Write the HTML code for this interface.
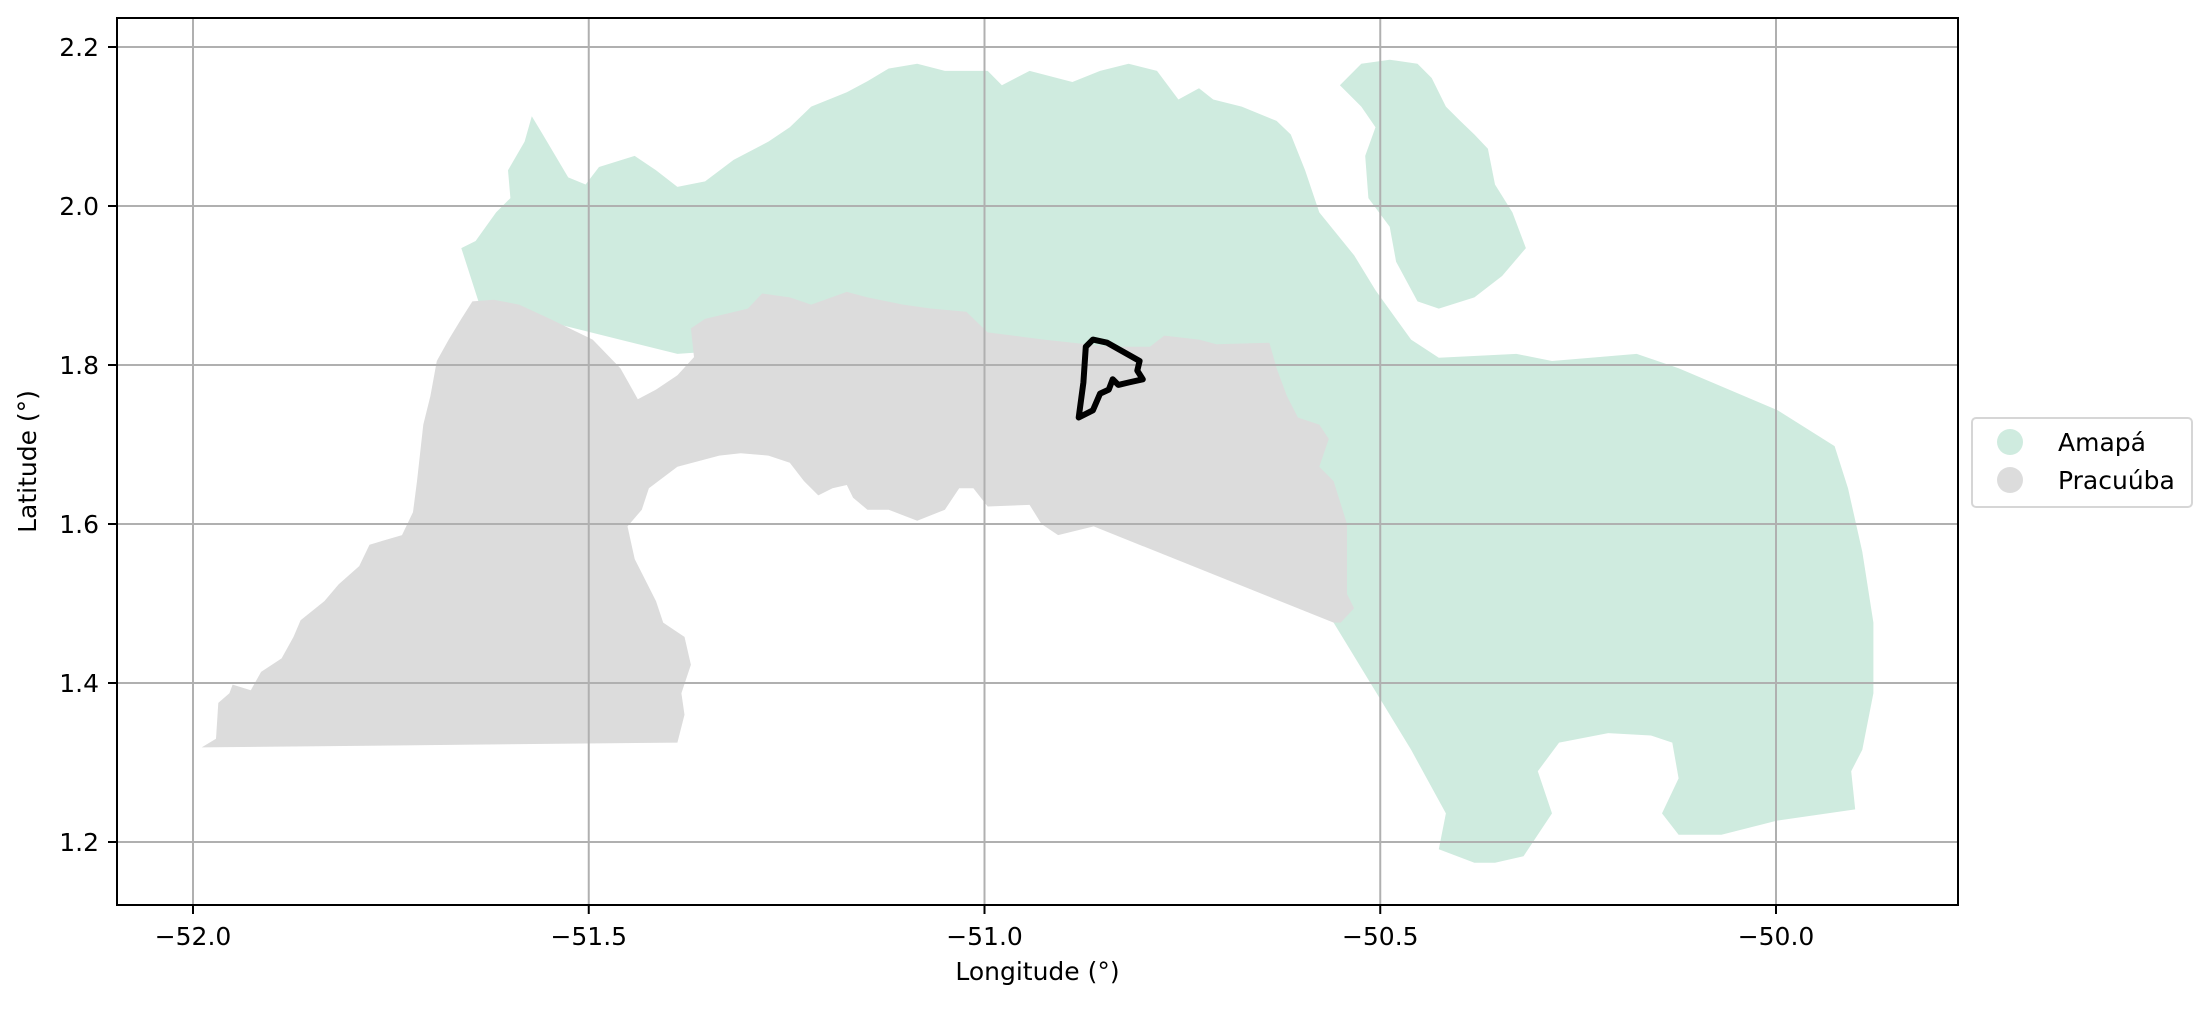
<!DOCTYPE html>
<html><head><meta charset="utf-8"><style>
body{margin:0;background:#fff}
svg text{font-family:"DejaVu Sans","Liberation Sans",sans-serif;fill:#000}
</style></head><body>
<svg id="chart" width="2211" height="1006" xmlns="http://www.w3.org/2000/svg"></svg>
<script>
const xTicks=[-52.0,-51.5,-51.0,-50.5,-50.0];
const yTicks=[1.2,1.4,1.6,1.8,2.0,2.2];
const xTickLabels=["\u221252.0","\u221251.5","\u221251.0","\u221250.5","\u221250.0"];
const yTickLabels=["1.2","1.4","1.6","1.8","2.0","2.2"];
const amapaMain=[[-51.661,1.947],[-51.643,1.956],[-51.617,1.992],[-51.599,2.010],[-51.602,2.045],[-51.581,2.081],[-51.572,2.113],[-51.558,2.090],[-51.526,2.036],[-51.504,2.027],[-51.487,2.049],[-51.442,2.063],[-51.415,2.045],[-51.388,2.024],[-51.353,2.031],[-51.317,2.058],[-51.273,2.081],[-51.246,2.099],[-51.219,2.125],[-51.174,2.143],[-51.148,2.157],[-51.121,2.173],[-51.085,2.179],[-51.050,2.170],[-50.996,2.170],[-50.978,2.152],[-50.943,2.170],[-50.889,2.156],[-50.854,2.170],[-50.818,2.179],[-50.782,2.170],[-50.755,2.134],[-50.729,2.148],[-50.711,2.134],[-50.675,2.125],[-50.631,2.107],[-50.613,2.090],[-50.595,2.045],[-50.577,1.992],[-50.533,1.938],[-50.506,1.894],[-50.461,1.832],[-50.426,1.809],[-50.328,1.814],[-50.283,1.805],[-50.176,1.814],[-50.123,1.796],[-49.998,1.743],[-49.926,1.698],[-49.909,1.645],[-49.891,1.565],[-49.877,1.476],[-49.877,1.387],[-49.891,1.316],[-49.905,1.289],[-49.900,1.241],[-49.998,1.227],[-50.069,1.209],[-50.123,1.209],[-50.144,1.236],[-50.123,1.280],[-50.131,1.325],[-50.158,1.334],[-50.212,1.337],[-50.274,1.325],[-50.301,1.289],[-50.283,1.236],[-50.319,1.182],[-50.355,1.174],[-50.381,1.174],[-50.426,1.191],[-50.417,1.236],[-50.461,1.316],[-50.559,1.476],[-50.640,1.725],[-50.996,1.841],[-51.388,1.814],[-51.638,1.876]];
const amapaIsland=[[-50.551,2.152],[-50.524,2.179],[-50.488,2.184],[-50.453,2.179],[-50.435,2.161],[-50.417,2.125],[-50.399,2.107],[-50.381,2.090],[-50.364,2.072],[-50.355,2.027],[-50.333,1.992],[-50.316,1.947],[-50.346,1.912],[-50.381,1.885],[-50.426,1.871],[-50.453,1.880],[-50.480,1.930],[-50.488,1.974],[-50.515,2.010],[-50.519,2.063],[-50.506,2.099],[-50.524,2.125]];
const pracuuba=[[-51.989,1.319],[-51.971,1.330],[-51.968,1.375],[-51.954,1.387],[-51.950,1.398],[-51.927,1.391],[-51.914,1.414],[-51.888,1.431],[-51.873,1.458],[-51.864,1.479],[-51.834,1.503],[-51.816,1.524],[-51.790,1.547],[-51.777,1.574],[-51.736,1.586],[-51.722,1.615],[-51.717,1.654],[-51.709,1.725],[-51.700,1.761],[-51.692,1.805],[-51.677,1.832],[-51.661,1.858],[-51.647,1.880],[-51.620,1.882],[-51.588,1.876],[-51.549,1.858],[-51.495,1.832],[-51.460,1.796],[-51.438,1.757],[-51.415,1.769],[-51.388,1.787],[-51.367,1.810],[-51.371,1.846],[-51.353,1.858],[-51.299,1.871],[-51.281,1.890],[-51.246,1.885],[-51.219,1.876],[-51.174,1.892],[-51.148,1.885],[-51.103,1.876],[-51.067,1.871],[-51.023,1.867],[-50.996,1.841],[-50.925,1.832],[-50.871,1.826],[-50.836,1.823],[-50.791,1.823],[-50.773,1.837],[-50.729,1.832],[-50.707,1.826],[-50.640,1.828],[-50.631,1.796],[-50.618,1.761],[-50.604,1.734],[-50.577,1.725],[-50.565,1.707],[-50.577,1.672],[-50.559,1.654],[-50.542,1.600],[-50.542,1.512],[-50.533,1.494],[-50.550,1.476],[-50.559,1.476],[-50.862,1.597],[-50.907,1.586],[-50.928,1.600],[-50.943,1.624],[-50.996,1.622],[-51.014,1.645],[-51.032,1.645],[-51.050,1.618],[-51.085,1.604],[-51.121,1.618],[-51.148,1.618],[-51.166,1.633],[-51.174,1.649],[-51.192,1.645],[-51.210,1.636],[-51.228,1.654],[-51.246,1.677],[-51.273,1.686],[-51.308,1.689],[-51.335,1.686],[-51.388,1.672],[-51.424,1.645],[-51.433,1.618],[-51.451,1.597],[-51.442,1.556],[-51.415,1.503],[-51.406,1.476],[-51.379,1.458],[-51.371,1.423],[-51.383,1.387],[-51.379,1.360],[-51.388,1.325]];
const outlineArea=[[-50.881,1.734],[-50.875,1.778],[-50.872,1.823],[-50.863,1.832],[-50.845,1.828],[-50.827,1.818],[-50.804,1.805],[-50.807,1.793],[-50.800,1.782],[-50.818,1.778],[-50.831,1.775],[-50.838,1.782],[-50.843,1.769],[-50.854,1.764],[-50.863,1.743]];
const legendLabels=["Amapá","Pracuúba"];
const legendColors=["#cfebdf","#dcdcdc"];

const NS="http://www.w3.org/2000/svg";
const svg=document.getElementById('chart');
const L=117,T=18,R=1958,B=905;
const X=lon=>193+(lon+52)*791.5;
const Y=lat=>47+(2.2-lat)*795;
function mk(tag,attrs,parent){const e=document.createElementNS(NS,tag);for(const k in attrs)e.setAttribute(k,attrs[k]);(parent||svg).appendChild(e);return e;}
const pts=a=>a.map(p=>X(p[0]).toFixed(1)+','+Y(p[1]).toFixed(1)).join(' ');

let e;
e=mk('polygon',{points:pts(amapaMain),fill:legendColors[0]});


e=mk('polygon',{points:pts(amapaIsland),fill:legendColors[0]});


e=mk('polygon',{points:pts(pracuuba),fill:legendColors[1]});



xTicks.forEach((v,i)=>{
  let g=mk('line',{x1:X(v),x2:X(v),y1:T,y2:B,stroke:'#b0b0b0','stroke-width':2});
  
  
  let t=mk('line',{x1:X(v),x2:X(v),y1:B,y2:B+9,stroke:'#000','stroke-width':2});
  
  
  let tx=mk('text',{x:X(v),y:B+40,'font-size':25,'text-anchor':'middle'});
  tx.textContent=xTickLabels[i];
  
  
});
yTicks.forEach((v,i)=>{
  let g=mk('line',{x1:L,x2:R,y1:Y(v),y2:Y(v),stroke:'#b0b0b0','stroke-width':2});
  
  
  let t=mk('line',{x1:L-9,x2:L,y1:Y(v),y2:Y(v),stroke:'#000','stroke-width':2});
  
  
  let tx=mk('text',{x:L-18,y:Y(v)+9,'font-size':25,'text-anchor':'end'});
  tx.textContent=yTickLabels[i];
  
  
});

e=mk('polygon',{points:pts(outlineArea),fill:'none',stroke:'#000','stroke-width':6,'stroke-linejoin':'round'});



e=mk('rect',{x:L,y:T,width:R-L,height:B-T,fill:'none',stroke:'#000','stroke-width':2});



e=mk('text',{x:(L+R)/2,y:980,'font-size':25,'text-anchor':'middle'});
e.textContent='Longitude (°)';


e=mk('text',{x:0,y:0,'font-size':25,'text-anchor':'middle',transform:'translate(36,'+((T+B)/2)+') rotate(-90)'});
e.textContent='Latitude (°)';



e=mk('rect',{x:1972,y:418,width:220,height:89,rx:4,fill:'#fff',stroke:'#d6d6d6','stroke-width':2});


legendLabels.forEach((lab,i)=>{
  let c=mk('circle',{cx:2010,cy:442+i*38,r:13,fill:legendColors[i]});
  
  
  let t=mk('text',{x:2058,y:451+i*38,'font-size':25});
  t.textContent=lab;
  
  
});
</script>
</body></html>
